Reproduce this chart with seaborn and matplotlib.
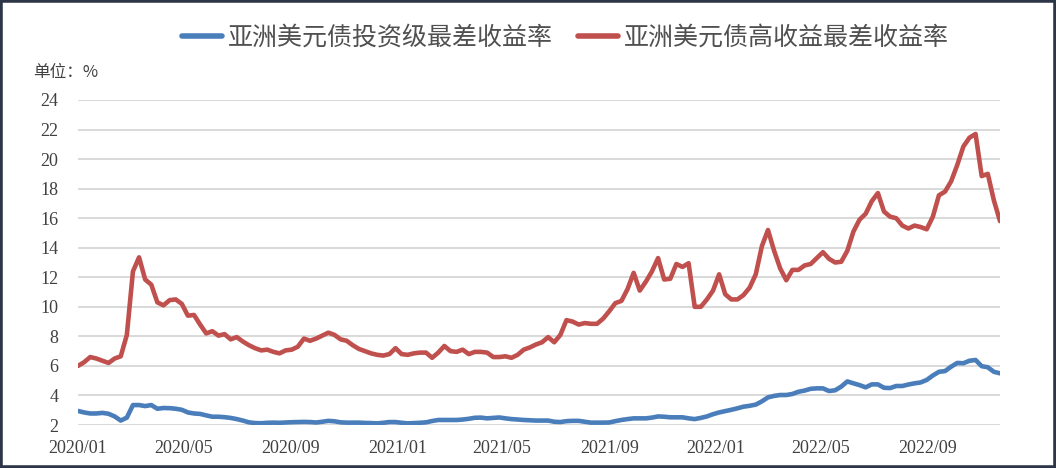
import pandas as pd
import numpy as np
import matplotlib
matplotlib.use('Agg')
import matplotlib.pyplot as plt
import matplotlib.dates as mdates
from matplotlib.patches import Rectangle
import seaborn as sns

# 周度数据，2020-01-01 起
start_date = '2020-01-01'

ig_yield = [
    2.95, 2.85, 2.78, 2.78, 2.82, 2.76, 2.58, 2.30, 2.50, 3.35,
    3.35, 3.28, 3.35, 3.10, 3.15, 3.14, 3.10, 3.03, 2.85, 2.78,
    2.75, 2.65, 2.56, 2.56, 2.53, 2.48, 2.40, 2.30, 2.18, 2.13,
    2.12, 2.15, 2.16, 2.15, 2.17, 2.19, 2.20, 2.21, 2.20, 2.17,
    2.22, 2.28, 2.25, 2.18, 2.16, 2.16, 2.16, 2.14, 2.13, 2.11,
    2.15, 2.20, 2.20, 2.15, 2.11, 2.13, 2.15, 2.18, 2.27, 2.34,
    2.34, 2.34, 2.34, 2.37, 2.42, 2.49, 2.50, 2.45, 2.48, 2.51,
    2.45, 2.40, 2.37, 2.34, 2.32, 2.30, 2.30, 2.30, 2.22, 2.20,
    2.26, 2.28, 2.28, 2.22, 2.16, 2.16, 2.16, 2.17, 2.26, 2.34,
    2.40, 2.45, 2.45, 2.45, 2.50, 2.58, 2.56, 2.52, 2.52, 2.52,
    2.45, 2.40, 2.48, 2.58, 2.73, 2.85, 2.94, 3.03, 3.13, 3.24,
    3.30, 3.38, 3.60, 3.87, 3.97, 4.03, 4.03, 4.10, 4.25, 4.33,
    4.45, 4.48, 4.48, 4.30, 4.35, 4.60, 4.95, 4.82, 4.70, 4.55,
    4.75, 4.75, 4.52, 4.50, 4.64, 4.64, 4.74, 4.82, 4.88, 5.05,
    5.35, 5.60, 5.65, 5.95, 6.20, 6.18, 6.35, 6.40, 5.98, 5.91,
    5.60, 5.50,
]

hy_yield = [
    6.00, 6.25, 6.60, 6.50, 6.35, 6.20, 6.50, 6.65, 8.10, 12.40,
    13.35, 11.85, 11.50, 10.30, 10.10, 10.45, 10.50, 10.20, 9.40, 9.45,
    8.80, 8.20, 8.35, 8.05, 8.15, 7.80, 7.95, 7.65, 7.40, 7.20,
    7.05, 7.10, 6.95, 6.85, 7.05, 7.10, 7.30, 7.85, 7.70, 7.85,
    8.05, 8.25, 8.10, 7.80, 7.70, 7.40, 7.15, 7.00, 6.85, 6.75,
    6.70, 6.80, 7.20, 6.80, 6.75, 6.85, 6.90, 6.90, 6.55, 6.90,
    7.35, 7.00, 6.95, 7.10, 6.80, 6.95, 6.95, 6.90, 6.60, 6.60,
    6.65, 6.55, 6.75, 7.10, 7.25, 7.45, 7.60, 7.95, 7.60, 8.10,
    9.10, 9.00, 8.80, 8.90, 8.85, 8.85, 9.20, 9.70, 10.25, 10.40,
    11.20, 12.30, 11.10, 11.70, 12.40, 13.30, 11.85, 11.90, 12.90, 12.70,
    12.95, 10.00, 10.00, 10.50, 11.10, 12.20, 10.85, 10.50, 10.50, 10.80,
    11.30, 12.20, 14.10, 15.20, 13.80, 12.60, 11.80, 12.50, 12.50, 12.80,
    12.90, 13.30, 13.70, 13.25, 13.00, 13.05, 13.80, 15.10, 15.90, 16.30,
    17.15, 17.70, 16.45, 16.10, 16.00, 15.50, 15.30, 15.50, 15.40, 15.25,
    16.10, 17.55, 17.80, 18.50, 19.60, 20.85, 21.45, 21.70, 18.85, 19.00,
    17.20, 15.80,
]

series_names = ['亚洲美元债投资级最差收益率', '亚洲美元债高收益最差收益率']
series_colors = ['#4a7ebb', '#c0504d']

y_ticks = [2, 4, 6, 8, 10, 12, 14, 16, 18, 20, 22, 24]

dates = pd.date_range(start_date, periods=len(ig_yield), freq='7D')

df = pd.concat([
    pd.DataFrame({'date': dates, 'value': ig_yield, 'series': series_names[0]}),
    pd.DataFrame({'date': dates, 'value': hy_yield, 'series': series_names[1]}),
])

sns.set_theme(style='white')
plt.rcParams['font.family'] = ['Liberation Serif', 'Noto Sans CJK SC']

fig = plt.figure(figsize=(10.56, 4.68), dpi=100)
ax = fig.add_axes([78 / 1056, 1 - 425 / 468, 922 / 1056, 325 / 468])

sns.lineplot(data=df, x='date', y='value', hue='series',
             palette=dict(zip(series_names, series_colors)),
             linewidth=3.3, ax=ax, legend=False)

ax.set_xlim(dates[0], dates[-1])
ax.set_ylim(2, 24)
ax.set_yticks(y_ticks)
ax.set_xlabel('')
ax.set_ylabel('')
ax.xaxis.set_major_locator(mdates.MonthLocator(bymonth=[1, 5, 9]))
ax.xaxis.set_major_formatter(mdates.DateFormatter('%Y/%m'))

ax.grid(axis='y', color='#d9d9d9', linewidth=1.4)
ax.set_axisbelow(True)
for s in ax.spines.values():
    s.set_visible(False)
ax.tick_params(axis='y', length=0, pad=14, labelsize=13, labelcolor='#404040')
ax.tick_params(axis='x', length=0, pad=11, labelsize=13, labelcolor='#404040')

# 图例
handles = [plt.Line2D([], [], color=c, linewidth=4, solid_capstyle='round') for c in series_colors]
fig.legend(handles, series_names, loc='center', bbox_to_anchor=(0.5355, 1 - 38 / 468),
           ncol=2, frameon=False, handlelength=1.6, handletextpad=0.25, columnspacing=1.0,
           prop={'family': ['Noto Sans CJK SC'], 'size': 18, 'weight': 'light'},
           labelcolor='#505050')

fig.text(33 / 1056, 1 - 72 / 468, '单位：%', fontsize=12, color='#404040',
         family=['Noto Sans CJK SC', 'DejaVu Sans'], va='center', ha='left')

# 外框
fig.patches.append(Rectangle((0, 0), 1, 1, transform=fig.transFigure, fill=False,
                             edgecolor='#2d3646', linewidth=4, zorder=10))

fig.savefig('out.png', dpi=100)
